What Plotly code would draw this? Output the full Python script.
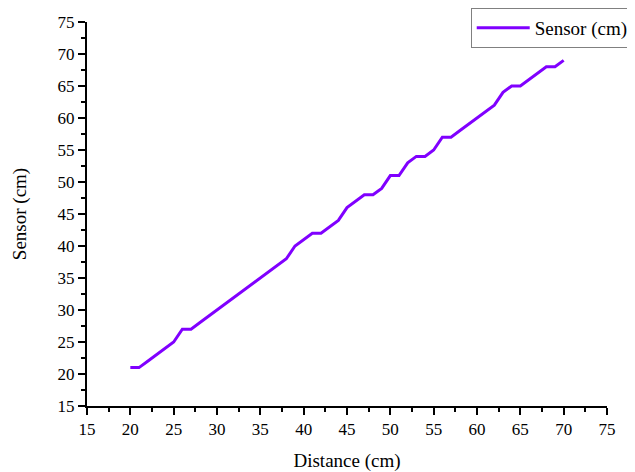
import plotly.graph_objects as go

distance = list(range(20, 71))
sensor = [21, 21, 22, 23, 24, 25, 27, 27, 28, 29,
          30, 31, 32, 33, 34, 35, 36, 37, 38, 40,
          41, 42, 42, 43, 44, 46, 47, 48, 48, 49,
          51, 51, 53, 54, 54, 55, 57, 57, 58, 59,
          60, 61, 62, 64, 65, 65, 66, 67, 68, 68, 69]

x_ticks = list(range(15, 80, 5))
y_ticks = list(range(15, 80, 5))

font = "Liberation Serif"

fig = go.Figure()
fig.add_trace(go.Scatter(x=distance, y=sensor, mode="lines", name="Sensor (cm)",
                         line=dict(color="#8000FF", width=3)))

axis_common = dict(showgrid=False, zeroline=False, showline=True, linecolor="black",
                   linewidth=2, ticks="outside", ticklen=7, tickwidth=1.5, tickcolor="black",
                   tickfont=dict(family=font, size=17, color="black"),
                   minor=dict(dtick=2.5, ticks="outside", ticklen=4, tickwidth=1.5, tickcolor="black"))

fig.update_xaxes(range=[15, 75], tickvals=x_ticks,
                 title=dict(text="Distance (cm)", font=dict(family=font, size=19, color="black"), standoff=16),
                 **axis_common)
fig.update_yaxes(range=[15, 75], tickvals=y_ticks,
                 title=dict(text="Sensor (cm)", font=dict(family=font, size=19, color="black"), standoff=26),
                 **axis_common)

# page has an 8px body margin, so the figure is sized/offset to compensate
fig.update_layout(width=627, height=464, plot_bgcolor="white", paper_bgcolor="white",
                  margin=dict(l=79, r=28, t=14, b=66, autoexpand=False),
                  showlegend=True,
                  legend=dict(xref="container", yref="container", x=0.738, y=1.0,
                              xanchor="left", yanchor="top",
                              bordercolor="#808080", borderwidth=1, bgcolor="white",
                              font=dict(family=font, size=19, color="black"),
                              tracegroupgap=0, itemwidth=53))

fig.write_html("out.html")
